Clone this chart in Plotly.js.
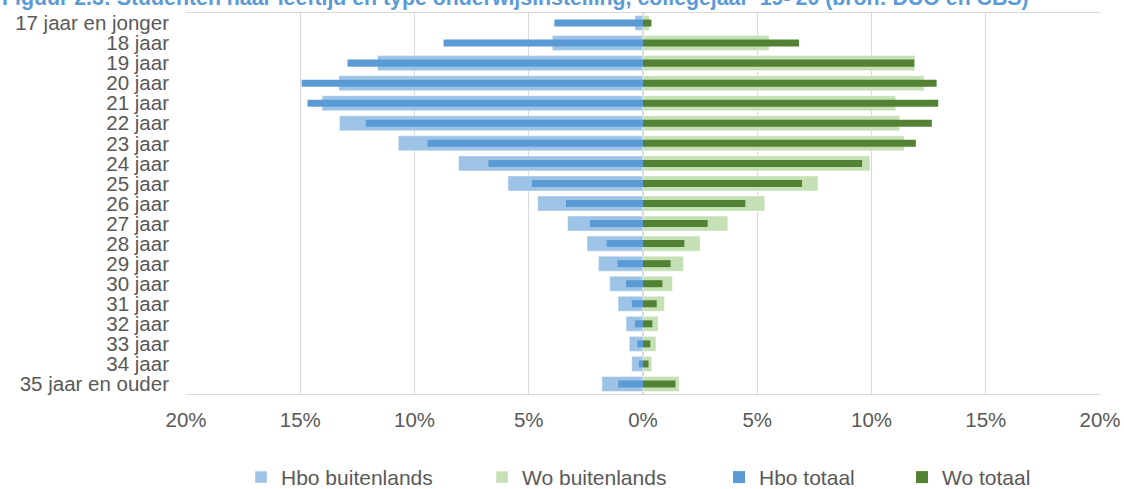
<!DOCTYPE html>
<html>
<head>
<meta charset="utf-8">
<script src="https://cdn.plot.ly/plotly-3.0.1.min.js"></script>
<style>html,body{margin:0;padding:0;background:#fff;}#chart{width:1124px;height:489px;}</style>
</head>
<body>
<div id="chart"></div>
<script>
const categories = ['17 jaar en jonger','18 jaar','19 jaar','20 jaar','21 jaar','22 jaar','23 jaar','24 jaar','25 jaar','26 jaar','27 jaar','28 jaar','29 jaar','30 jaar','31 jaar','32 jaar','33 jaar','34 jaar','35 jaar en ouder'];
const hboBuitenlands = [0.35, 3.97, 11.62, 13.31, 14.04, 13.28, 10.71, 8.07, 5.91, 4.61, 3.30, 2.45, 1.95, 1.46, 1.09, 0.74, 0.60, 0.49, 1.80];
const woBuitenlands  = [0.28, 5.52, 11.90, 12.30, 11.06, 11.23, 11.43, 9.93, 7.66, 5.33, 3.71, 2.50, 1.77, 1.29, 0.94, 0.66, 0.57, 0.38, 1.58];
const hboTotaal      = [3.88, 8.73, 12.93, 14.94, 14.68, 12.13, 9.43, 6.76, 4.86, 3.37, 2.32, 1.59, 1.12, 0.74, 0.49, 0.35, 0.25, 0.18, 1.09];
const woTotaal       = [0.37, 6.83, 11.87, 12.85, 12.92, 12.64, 11.94, 9.59, 6.96, 4.48, 2.83, 1.81, 1.21, 0.85, 0.60, 0.41, 0.32, 0.24, 1.42];
const tickValues = [-20, -15, -10, -5, 0, 5, 10, 15, 20];
const tickLabels = ['20%', '15%', '10%', '5%', '0%', '5%', '10%', '15%', '20%'];
const seriesNames = ['Hbo buitenlands', 'Wo buitenlands', 'Hbo totaal', 'Wo totaal'];
const titleText = "Figuur 2.3: Studenten naar leeftijd en type onderwijsinstelling, collegejaar '19-'20 (bron: DUO en CBS)";

const FONT = 'Liberation Sans, Arial, sans-serif';
const neg = a => a.map(v => -v);

const traces = [
  {type:'bar', orientation:'h', name:seriesNames[0], y:categories, x:neg(hboBuitenlands), width:0.75,
   marker:{color:'#9DC3E6', line:{color:'rgba(255,255,255,0.45)', width:1}}, legend:'legend'},
  {type:'bar', orientation:'h', name:seriesNames[1], y:categories, x:woBuitenlands, width:0.75,
   marker:{color:'#C5E0B4', line:{color:'rgba(255,255,255,0.45)', width:1}}, legend:'legend2'},
  {type:'bar', orientation:'h', name:seriesNames[2], y:categories, x:neg(hboTotaal), width:0.35,
   marker:{color:'#5B9BD5'}, legend:'legend3'},
  {type:'bar', orientation:'h', name:seriesNames[3], y:categories, x:woTotaal, width:0.35,
   marker:{color:'#548235'}, legend:'legend4'}
];

const plotL = 186, plotW = 914;
function legendAt(textStartPx) {
  return {orientation:'h', x:(textStartPx - 40 - plotL)/plotW, xanchor:'left', y:-0.219, yanchor:'middle',
          font:{family:FONT, size:21, color:'#595959'}, bgcolor:'rgba(0,0,0,0)', itemclick:false};
}

const layout = {
  width:1124, height:489,
  margin:{l:186, r:24, t:13, b:95, autoexpand:false},
  paper_bgcolor:'#fff', plot_bgcolor:'#fff',
  barmode:'overlay',
  showlegend:true,
  font:{family:FONT, size:20, color:'#595959'},
  xaxis:{range:[-20,20], tickvals:tickValues, ticktext:tickLabels, showgrid:true, gridcolor:'#D9D9D9', gridwidth:1.3,
         zeroline:false, showline:true, mirror:true, linecolor:'#D9D9D9', linewidth:1.3, ticks:'', ticklabelstandoff:7,
         tickfont:{family:FONT, size:20.5, color:'#595959'}, fixedrange:true},
  yaxis:{type:'category', autorange:'reversed', tickmode:'array', tickvals:categories, ticktext:categories,
         showgrid:false, zeroline:false, showline:false, ticks:'',
         ticklabelstandoff:16, tickfont:{family:FONT, size:20.5, color:'#595959'}, fixedrange:true},
  legend:legendAt(281),
  legend2:legendAt(522),
  legend3:legendAt(759),
  legend4:legendAt(942),
  annotations:[{text:'<b>'+titleText+'</b>', xref:'paper', yref:'paper', x:-plotL/plotW, xanchor:'left', y:1, yanchor:'bottom',
                yshift:1, showarrow:false, font:{family:FONT, size:21.3, color:'#5B9BD5'}}]
};

Plotly.newPlot('chart', traces, layout, {displayModeBar:false, staticPlot:true});
</script>
</body>
</html>
